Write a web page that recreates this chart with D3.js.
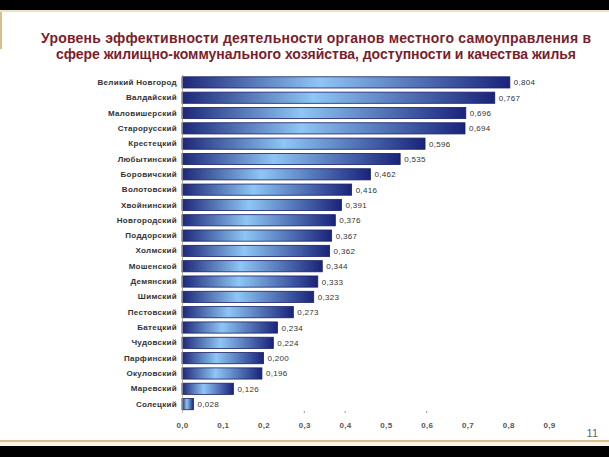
<!DOCTYPE html>
<html><head><meta charset="utf-8">
<script src="https://cdn.jsdelivr.net/npm/d3@7"></script>
<style>body{margin:0;background:#fff}svg{display:block}</style>
</head><body>
<script>
const categories = ["Великий Новгород","Валдайский","Маловишерский","Старорусский","Крестецкий","Любытинский","Боровичский","Волотовский","Хвойнинский","Новгородский","Поддорский","Холмский","Мошенской","Демянский","Шимский","Пестовский","Батецкий","Чудовский","Парфинский","Окуловский","Маревский","Солецкий"];
const values = [0.804,0.767,0.696,0.694,0.596,0.535,0.462,0.416,0.391,0.376,0.367,0.362,0.344,0.333,0.323,0.273,0.234,0.224,0.200,0.196,0.126,0.028];
const tickValues = [0,0.1,0.2,0.3,0.4,0.5,0.6,0.7,0.8,0.9];
const markTicks = [0.3,0.4,0.6];
const titleLines = ["Уровень эффективности деятельности органов местного самоуправления  в","сфере жилищно-коммунального хозяйства,  доступности и качества жилья"];
const pageNumber = "11";

const W=609,H=457;
const FONT="'Liberation Sans',Arial,sans-serif";
const svg=d3.select("body").append("svg").attr("width",W).attr("height",H);
svg.append("rect").attr("width",W).attr("height",H).attr("fill","#fff");
// frame
svg.append("rect").attr("x",0).attr("y",0).attr("width",W).attr("height",10).attr("fill","#000");
svg.append("rect").attr("x",0).attr("y",446).attr("width",W).attr("height",11).attr("fill","#000");
svg.append("rect").attr("x",0).attr("y",440).attr("width",W).attr("height",2).attr("fill","#d8c08e");
svg.append("rect").attr("x",0).attr("y",442).attr("width",W).attr("height",4).attr("fill","#fbf5e6");
svg.append("rect").attr("x",0).attr("y",11).attr("width",2).attr("height",38).attr("fill","#d8c08e");
svg.append("rect").attr("x",0).attr("y",10).attr("width",W).attr("height",2).attr("fill","#efe3c6");

// title
const tt=svg.append("text").attr("text-anchor","middle").attr("fill","#7a1e2b")
  .attr("font-family",FONT).attr("font-weight","bold").attr("font-size",14);
tt.selectAll("tspan").data(titleLines).join("tspan").attr("x",316).attr("y",(d,i)=>43+i*16)
  .attr("textLength",(d,i)=>i===0?550:520).attr("lengthAdjust","spacing").text(d=>d);

const x=d3.scaleLinear().domain([0,0.9]).range([182,549]);
const y=d3.scaleBand().domain(categories).range([74.5,412]).paddingInner(0.27).paddingOuter(0.15);

const defs=svg.append("defs");
const g=defs.append("linearGradient").attr("id","bg").attr("x1","0").attr("x2","1").attr("y1","0").attr("y2","0");
g.append("stop").attr("offset","0%").attr("stop-color","#1d2778");
g.append("stop").attr("offset","42%").attr("stop-color","#8ec6f5");
g.append("stop").attr("offset","100%").attr("stop-color","#19237a");

svg.append("g").selectAll("rect").data(values).join("rect")
  .attr("x",x(0)).attr("y",(d,i)=>y(categories[i]))
  .attr("width",d=>x(d)-x(0)).attr("height",y.bandwidth())
  .attr("fill","url(#bg)").attr("stroke","#1a2166").attr("stroke-width",0.8);

svg.append("g").selectAll("text").data(values).join("text")
  .attr("x",d=>x(d)+4).attr("y",(d,i)=>y(categories[i])+y.bandwidth()/2+3)
  .attr("font-family",FONT).attr("font-size",8).attr("letter-spacing",0.3).attr("fill","#333")
  .text(d=>d3.format(".3f")(d).replace(".",","));

// axes
const ya=svg.append("g").attr("transform",`translate(${x(0)},0)`).call(d3.axisLeft(y).tickSize(0).tickPadding(5));
ya.select(".domain").attr("stroke","#999").attr("stroke-width",0.8);
ya.selectAll("text").attr("font-family",FONT).attr("font-size",8).attr("font-weight","bold").attr("letter-spacing",0.3).attr("fill","#333");

const xa=svg.append("g").attr("transform","translate(0,412)").call(d3.axisBottom(x).tickValues(tickValues).tickSize(0).tickPadding(10).tickFormat(d=>d3.format(".1f")(d).replace(".",",")));
xa.select(".domain").remove();
xa.selectAll("text").attr("font-family",FONT).attr("font-size",8).attr("font-weight","bold").attr("letter-spacing",0.3).attr("fill","#555");

svg.append("g").selectAll("line").data(markTicks).join("line")
  .attr("x1",d=>x(d)).attr("x2",d=>x(d)).attr("y1",411).attr("y2",413).attr("stroke","#999");

svg.append("text").attr("x",598).attr("y",437).attr("text-anchor","end").attr("font-family",FONT).attr("font-size",11).attr("fill","#666").text(pageNumber);
</script>
</body></html>
